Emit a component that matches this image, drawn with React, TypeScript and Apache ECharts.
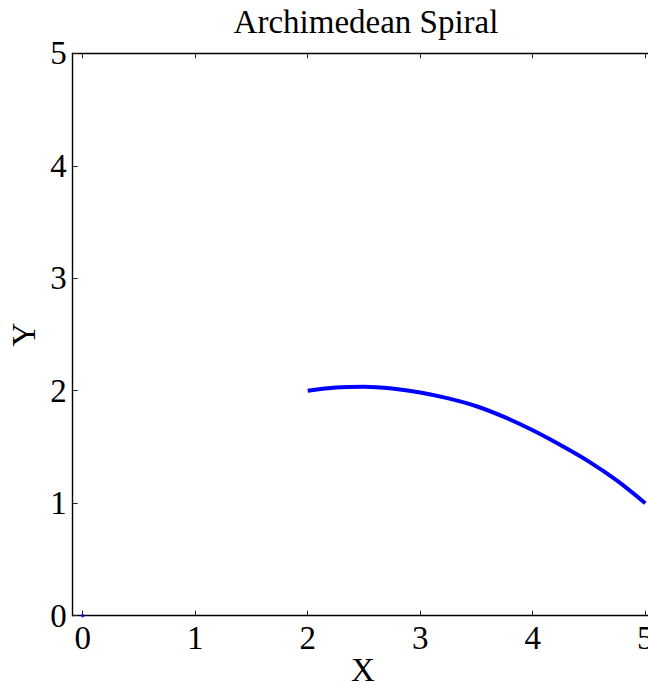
import React, { useEffect, useRef } from "react";
import * as echarts from "echarts";

const titleText = "Archimedean Spiral";
const xName = "X";
const yName = "Y";
const tickValues = [0, 1, 2, 3, 4, 5];
const spiralX = [2.0, 2.25, 2.5, 2.75, 3.0, 3.25, 3.5, 3.75, 4.0, 4.25, 4.5, 4.75, 5.0];
const spiralY = [2.0, 2.028, 2.035, 2.02, 1.985, 1.932, 1.862, 1.765, 1.648, 1.515, 1.37, 1.2, 1.0];
const originX = [0];
const originY = [0];

const FONT = "'Liberation Serif', 'Times New Roman', serif";

export default function App() {
  const ref = useRef<HTMLDivElement>(null);
  useEffect(() => {
    document.body.style.margin = "0";
    const chart = echarts.init(ref.current!, null, { renderer: "svg" });
    const lineData = spiralX.map((x, i) => [x, spiralY[i]]);
    const originData = originX.map((x, i) => [x, originY[i]]);
    const axisLine = { show: true, onZero: false, lineStyle: { color: "#000", width: 1.4 } };
    const tick = { show: true, inside: true, length: 5, lineStyle: { color: "#222", width: 1 } };
    const xCommon = {
      type: "value" as const,
      min: -0.089,
      max: 5.069,
      splitLine: { show: false },
      axisLine,
    };
    chart.setOption({
      animation: false,
      backgroundColor: "#fff",
      title: {
        text: titleText,
        left: 361,
        top: 0,
        textAlign: "center",
        textStyle: { fontFamily: FONT, fontSize: 33, fontWeight: "normal", color: "#000" },
      },
      grid: {
        left: 72.7,
        right: -5,
        top: 53.3,
        bottom: 69.3,
        containLabel: false,
        outerBoundsMode: "none",
      },
      xAxis: [
        {
          ...xCommon,
          position: "bottom",
          name: xName,
          nameLocation: "middle",
          nameGap: 38,
          nameMoveOverlap: false,
          nameTextStyle: { fontFamily: FONT, fontSize: 33, color: "#000" },
          axisTick: { ...tick, customValues: tickValues },
          axisLabel: {
            customValues: tickValues,
            fontFamily: FONT,
            fontSize: 33,
            color: "#000",
            margin: 6,
            hideOverlap: false,
          },
        },
        {
          ...xCommon,
          position: "top",
          axisTick: { ...tick, customValues: tickValues },
          axisLabel: { show: false },
        },
      ],
      yAxis: [
        {
          type: "value",
          min: 0,
          max: 5,
          interval: 1,
          position: "left",
          name: yName,
          nameLocation: "middle",
          nameGap: 32,
          nameMoveOverlap: false,
          nameRotate: 90,
          nameTextStyle: { fontFamily: FONT, fontSize: 33, color: "#000" },
          splitLine: { show: false },
          axisLine,
          axisTick: tick,
          axisLabel: { fontFamily: FONT, fontSize: 33, color: "#000", margin: 6 },
        },
        {
          type: "value",
          min: 0,
          max: 5,
          interval: 1,
          position: "right",
          splitLine: { show: false },
          axisLine,
          axisTick: tick,
          axisLabel: { show: false },
        },
      ],
      series: [
        {
          type: "line",
          data: lineData,
          smooth: 0.3,
          showSymbol: false,
          lineStyle: { color: "#0000ff", width: 4 },
          xAxisIndex: 0,
          yAxisIndex: 0,
        },
        {
          type: "scatter",
          data: originData,
          symbol: "circle",
          symbolSize: 3.5,
          itemStyle: { color: "#0000ff" },
          xAxisIndex: 0,
          yAxisIndex: 0,
        },
      ],
    });
    return () => chart.dispose();
  }, []);
  return <div ref={ref} style={{ width: 648, height: 685 }} />;
}
